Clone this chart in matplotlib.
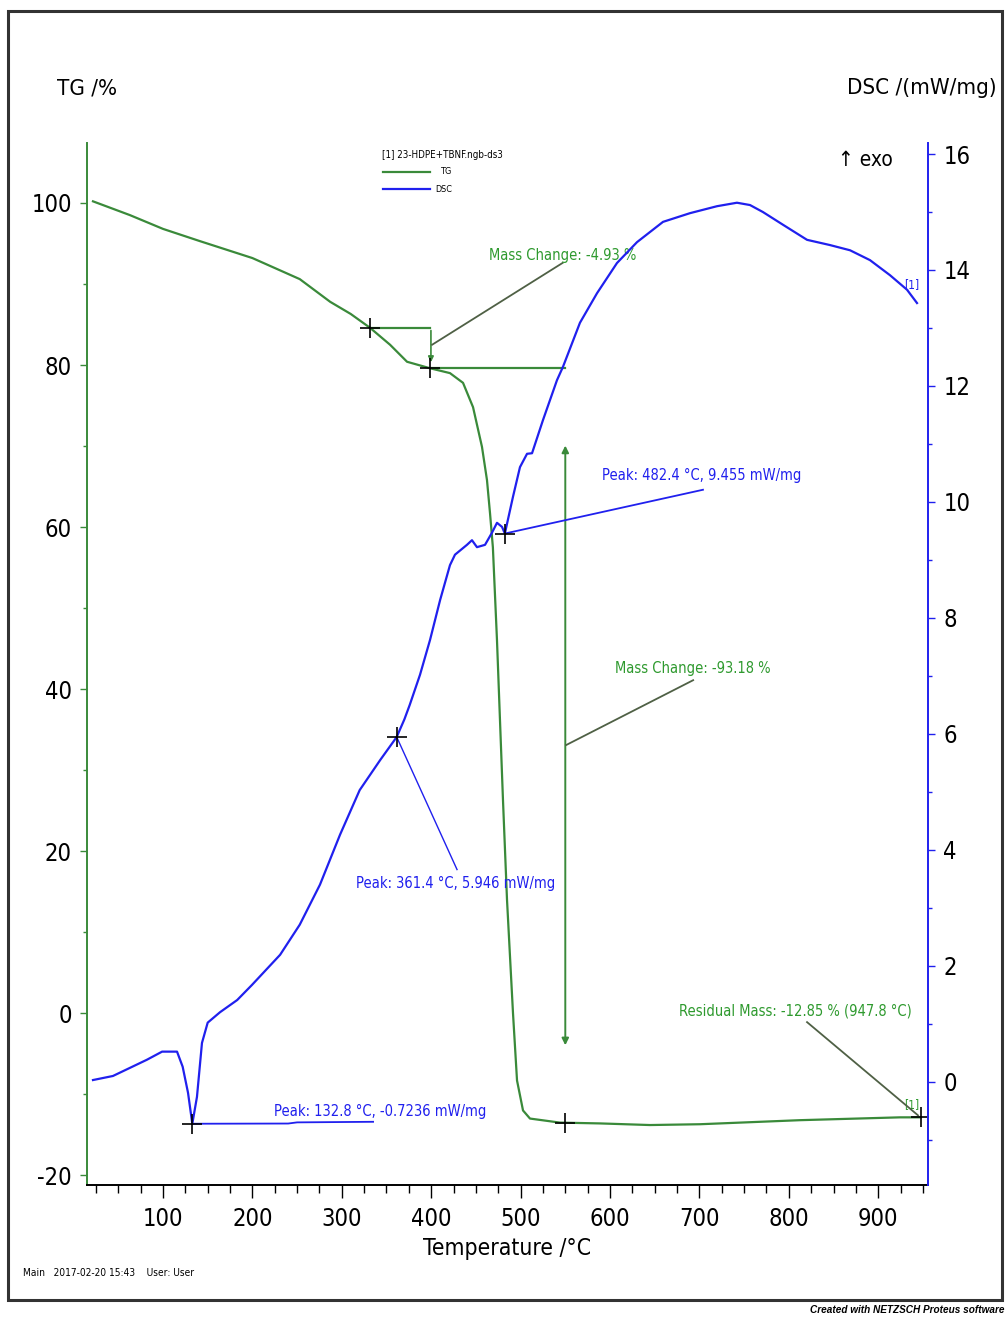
import os
import matplotlib
matplotlib.use('Agg')
import matplotlib.pyplot as plt
from matplotlib import font_manager
from matplotlib.font_manager import FontProperties
from matplotlib.patches import Rectangle
from matplotlib.ticker import MultipleLocator

# TG curve (temperature in degC, mass in %)
tg_temp = [21.7, 63, 100, 141, 200, 253, 287, 310, 331.5, 354, 373, 398.7, 421, 435.6,
           446.8, 456.8, 462.4, 465.8, 469, 473.6, 480.3, 484.8, 491.5, 496, 502.7, 510.5,
           544, 588.8, 644.7, 700.7, 812.5, 924.4, 947.8]
tg_mass = [100.2, 98.5, 96.8, 95.3, 93.2, 90.6, 87.8, 86.3, 84.6, 82.5, 80.4, 79.6, 79.0, 77.8,
           74.8, 69.9, 65.8, 61.7, 57.5, 46.0, 26.3, 14.0, 0.0, -8.3, -12.0, -13.0,
           -13.5, -13.6, -13.8, -13.7, -13.2, -12.85, -12.85]

# DSC curve (temperature in degC, heat flow in mW/mg)
dsc_temp = [21.7, 44, 63, 82, 99, 115.7, 122, 128, 132.8, 138, 143.6, 150, 163.8, 183, 199.5,
            231, 253, 275.6, 298, 320, 343, 361.4, 370, 376, 387.5, 398.7, 410, 421, 426.6, 440,
            445.6, 451.2, 460.2, 468, 473.6, 479.2, 482.4, 491.5, 499.3, 507.2, 512.8, 525,
            540.7, 547.4, 566.4, 585.5, 607.8, 630.2, 659.3, 689.5, 719.7, 742, 756.6, 771,
            793.5, 820.4, 846, 868.5, 890.8, 913.2, 932.2, 943.4]
dsc_val = [0.03, 0.10, 0.24, 0.38, 0.52, 0.52, 0.26, -0.19, -0.7236, -0.26, 0.67, 1.02, 1.2, 1.41,
           1.67, 2.19, 2.71, 3.4, 4.26, 5.03, 5.55, 5.946, 6.25, 6.5, 7.02, 7.62, 8.31, 8.91, 9.09,
           9.26, 9.34, 9.22, 9.26, 9.47, 9.64, 9.57, 9.455, 10.09, 10.6, 10.83, 10.84, 11.41,
           12.1, 12.33, 13.09, 13.6, 14.12, 14.48, 14.83, 14.98, 15.1, 15.16, 15.12, 15.0,
           14.78, 14.52, 14.43, 14.34, 14.17, 13.91, 13.66, 13.43]

# evaluated points
mass_step1 = (331.5, 84.6, 398.7, 79.6)     # -4.93 %
mass_step2 = (398.7, 79.6, 550.0, -13.6)    # -93.18 %
residual = (947.8, -12.85)
dsc_peaks = [(132.8, -0.7236), (361.4, 5.946), (482.4, 9.455)]


# look for a narrow sans font (the original uses Arial Narrow)
def find_narrow():
    files = [f.fname for f in font_manager.fontManager.ttflist]
    wanted = ['LiberationSansNarrow-Regular', 'NotoSans-ExtraCondensed.', 'NotoSans-Condensed.',
              'DejaVuSansCondensed.', 'Roboto_Condensed-Regular', 'RobotoCondensed-Regular',
              'OpenSans_Condensed-Regular', 'OpenSans-CondensedRegular']
    for w in wanted:
        for p in files:
            if w in os.path.basename(p):
                return p
    return None


narrow = find_narrow()


def fp(size, **kw):
    if narrow:
        return FontProperties(fname=narrow, size=size, **kw)
    return FontProperties(family='Liberation Sans', size=size, **kw)


GREEN = '#3a8a3a'
TXT_GREEN = '#2f9a2f'
BLUE = '#2020ee'
LEADER = '#4f6045'

W, H = 1007, 1319
fig = plt.figure(figsize=(W / 100, H / 100), dpi=100)
ax = fig.add_axes([87 / W, 1 - 1185 / H, (928 - 87) / W, (1185 - 143) / H])
ax2 = ax.twinx()

ax.plot(tg_temp, tg_mass, color=GREEN, lw=1.6, zorder=3)
ax2.plot(dsc_temp, dsc_val, color=BLUE, lw=1.6, zorder=3)

ax.set_xlim(15, 955.7)
ax.set_ylim(-21.2, 107.4)
ax2.set_ylim(-1.78, 16.19)

ax.xaxis.set_major_locator(MultipleLocator(100))
ax.xaxis.set_minor_locator(MultipleLocator(25))
ax.yaxis.set_major_locator(MultipleLocator(20))
ax.yaxis.set_minor_locator(MultipleLocator(10))
ax2.yaxis.set_major_locator(MultipleLocator(2))
ax2.yaxis.set_minor_locator(MultipleLocator(1))

ax.set_xticks([100, 200, 300, 400, 500, 600, 700, 800, 900])
ax.set_yticks([-20, 0, 20, 40, 60, 80, 100])
ax.set_yticklabels(['-20', '0', '20', '40', '60', '80', '100'])
ax.tick_params(axis='x', which='major', length=9, width=1, pad=7)
ax.tick_params(axis='x', which='minor', length=6, width=1)
ax.tick_params(axis='y', which='major', length=5, width=1, color=GREEN, pad=6)
ax.tick_params(axis='y', which='minor', length=3, width=1, color=GREEN)
ax2.tick_params(axis='y', which='major', length=5, width=1, color=BLUE, pad=6)
ax2.tick_params(axis='y', which='minor', length=3, width=1, color=BLUE)
for lab in ax.get_xticklabels() + ax.get_yticklabels() + ax2.get_yticklabels():
    lab.set_fontproperties(fp(17))

for a in (ax, ax2):
    a.spines['top'].set_visible(False)
ax.spines['left'].set_color(GREEN)
ax.spines['right'].set_visible(False)
ax2.spines['left'].set_visible(False)
ax2.spines['right'].set_color(BLUE)
ax2.spines['bottom'].set_visible(False)
ax.spines['left'].set_linewidth(1.4)
ax2.spines['right'].set_linewidth(1.4)
ax.spines['bottom'].set_linewidth(1.4)

ann = 10.5

# --- mass change 1 ---
x0, y0, x1, y1 = mass_step1
ax.plot([x0, x1], [y0, y0], color=GREEN, lw=1.6, zorder=3)
ax.plot([x1, 550], [y1, y1], color=GREEN, lw=1.6, zorder=3)
ax.annotate('', xy=(x1 + 1, y1 + 0.4), xytext=(x1 + 1, y0),
            arrowprops=dict(arrowstyle='-|>', color=GREEN, lw=1.2, mutation_scale=8))
ax.plot([x0, x1], [y0, y1], '+', color='black', ms=14, mew=1.2, zorder=5)
ax.plot([401, 547], [82.5, 92.6], color=LEADER, lw=1.3, zorder=4)
ax.text(547, 93.5, 'Mass Change: -4.93 %', color=TXT_GREEN, fontproperties=fp(ann),
        ha='center', va='center', zorder=6)

# --- mass change 2 ---
x0, y0, x1, y1 = mass_step2
ax.annotate('', xy=(x1, -4.3), xytext=(x1, 70.4),
            arrowprops=dict(arrowstyle='<|-|>', color=GREEN, lw=1.4, mutation_scale=10))
ax.plot([x1], [y1], '+', color='black', ms=14, mew=1.2, zorder=5)
ax.plot([551, 693], [33.1, 41.1], color=LEADER, lw=1.3, zorder=4)
ax.text(693, 42.6, 'Mass Change: -93.18 %', color=TXT_GREEN, fontproperties=fp(ann),
        ha='center', va='center', zorder=6)

# --- residual mass ---
ax.plot([residual[0]], [residual[1]], '+', color='black', ms=14, mew=1.2, zorder=5)
ax.plot([820.4, 944.5], [-1.1, -12.6], color=LEADER, lw=1.3, zorder=4)
ax.text(807, 0.3, 'Residual Mass: -12.85 % (947.8 °C)', color=TXT_GREEN, fontproperties=fp(ann),
        ha='center', va='center', zorder=6)
ax.text(937, -11.3, '[1]', color=TXT_GREEN, fontproperties=fp(8.5), ha='center', va='center')

# --- DSC peaks ---
for t, v in dsc_peaks:
    ax2.plot([t], [v], '+', color='black', ms=14, mew=1.2, zorder=5)
ax2.plot([132.8, 240, 250, 335], [-0.7236, -0.72, -0.70, -0.69], color=BLUE, lw=1.3, zorder=4)
ax2.text(224, -0.52, 'Peak: 132.8 °C, -0.7236 mW/mg', color=BLUE, fontproperties=fp(ann),
         ha='left', va='center')
ax2.plot([361.4, 428.9], [5.946, 3.66], color=BLUE, lw=1.0, zorder=4)
ax2.text(427.7, 3.42, 'Peak: 361.4 °C, 5.946 mW/mg', color=BLUE, fontproperties=fp(ann),
         ha='center', va='center')
ax2.plot([482.4, 704], [9.455, 10.21], color=BLUE, lw=1.3, zorder=4)
ax2.text(703, 10.46, 'Peak: 482.4 °C, 9.455 mW/mg', color=BLUE, fontproperties=fp(ann),
         ha='center', va='center')
ax2.text(937, 13.75, '[1]', color=BLUE, fontproperties=fp(8.5), ha='center', va='center')

# --- legend block ---
fig.text(382 / W, 1 - 155 / H, '[1] 23-HDPE+TBNF.ngb-ds3', fontproperties=fp(7),
         ha='left', va='center')
fig.add_artist(plt.Line2D([383 / W, 430 / W], [1 - 172 / H, 1 - 172 / H], color=GREEN, lw=1.6))
fig.text(441 / W, 1 - 172 / H, 'TG', fontproperties=fp(6.5), ha='left', va='center')
fig.add_artist(plt.Line2D([383 / W, 430 / W], [1 - 189 / H, 1 - 189 / H], color=BLUE, lw=1.6))
fig.text(435 / W, 1 - 190 / H, 'DSC', fontproperties=fp(6.5), ha='left', va='center')

fig.text(838 / W, 1 - 160 / H, '\u2191 exo', fontproperties=fp(15), ha='left', va='center')

# axis titles
fig.text(57 / W, 1 - 88 / H, 'TG /%', fontproperties=fp(16), ha='left', va='center')
fig.text(997 / W, 1 - 88 / H, 'DSC /(mW/mg)', fontproperties=fp(16), ha='right', va='center')
fig.text(507 / W, 1 - 1249 / H, 'Temperature /°C', fontproperties=fp(16.5), ha='center',
         va='center')

fig.text(23 / W, 1 - 1273 / H, 'Main   2017-02-20 15:43    User: User', fontproperties=fp(7.3),
         ha='left', va='center')
fig.text(1005 / W, 1 - 1310 / H, 'Created with NETZSCH Proteus software',
         family='Liberation Sans', size=7.2, style='italic', weight='bold',
         ha='right', va='center')

# outer frame
fig.add_artist(Rectangle((8 / W, 1 - 1300 / H), (1002 - 8) / W, (1300 - 11) / H,
                         transform=fig.transFigure, fill=False, edgecolor='#333333', lw=2.2))

fig.savefig('out.png', dpi=100, facecolor='white')
